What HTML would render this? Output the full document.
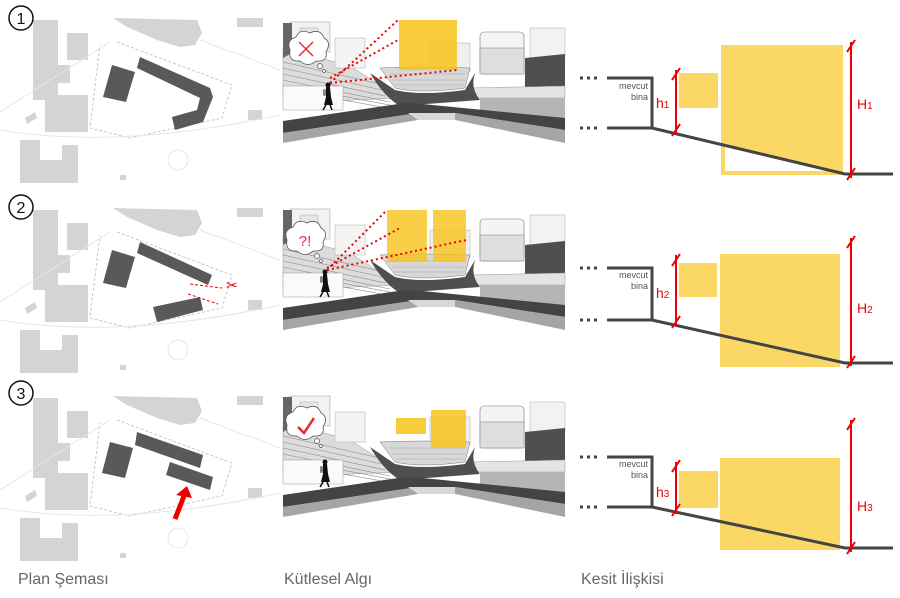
<!DOCTYPE html>
<html><head><meta charset="utf-8"><style>
html,body{margin:0;padding:0;background:#fff;width:900px;height:598px;overflow:hidden}
svg{display:block}
text{font-family:"Liberation Sans",sans-serif}
</style></head><body>
<svg width="900" height="598" viewBox="0 0 900 598" xmlns="http://www.w3.org/2000/svg">
<defs>
<g id="planbg">
 <polygon points="113,18 197,20 202,33 195,45 180,47 157,40 127,27" fill="#d4d4d4"/>
 <rect x="237" y="18" width="26" height="9" fill="#d4d4d4"/>
 <rect x="33" y="20" width="25" height="80" fill="#d4d4d4"/>
 <rect x="67" y="33" width="21" height="27" fill="#d4d4d4"/>
 <rect x="43" y="65" width="27" height="18" fill="#d4d4d4"/>
 <rect x="45" y="95" width="43" height="37" fill="#d4d4d4"/>
 <path d="M20,140 H40 V160 H62 V145 H78 V183 H20 Z" fill="#d4d4d4"/>
 <rect x="248" y="110" width="14" height="10" fill="#d4d4d4"/>
 <rect x="120" y="175" width="6" height="5" fill="#d4d4d4"/>
 <polygon points="25,118 35,112 37,118 27,124" fill="#d4d4d4"/>
 <polyline points="117,42 232,85 222,118 130,138 90,128 100,45" fill="none" stroke="#bbb" stroke-dasharray="3,2" stroke-width="0.8"/>
 <path d="M0,130 Q120,150 280,115 M0,112 L110,42 M200,40 L280,70" fill="none" stroke="#e6e6e6" stroke-width="1"/>
 <circle cx="178" cy="160" r="10" fill="none" stroke="#e6e6e6"/>
</g>
<g id="persp">
 <rect x="283" y="0" width="282" height="125" fill="#fff"/>
 <rect x="290" y="4" width="40" height="30" fill="#f2f2f2" stroke="#aaa" stroke-width="0.6"/>
 <rect x="300" y="10" width="18" height="30" fill="#e6e6e6" stroke="#aaa" stroke-width="0.5"/>
 <polygon points="283,30 350,48 400,80 283,85" fill="#dcdcdc" stroke="#999" stroke-width="0.5"/>
 <polygon points="283,5 292,5 292,35 283,40" fill="#666"/>
 <g stroke="#888" stroke-width="0.6"><line x1="283" y1="44" x2="380" y2="66"/><line x1="283" y1="50" x2="382" y2="72"/><line x1="283" y1="56" x2="385" y2="78"/><line x1="283" y1="62" x2="390" y2="84"/><line x1="300" y1="70" x2="395" y2="88"/><line x1="310" y1="76" x2="398" y2="92"/></g>
 <rect x="283" y="68" width="60" height="24" fill="#fafafa" stroke="#999" stroke-width="0.5"/>
 <rect x="335" y="20" width="30" height="30" fill="#f4f4f4" stroke="#aaa" stroke-width="0.5"/>
 <rect x="430" y="25" width="40" height="28" fill="#f0f0f0" stroke="#aaa" stroke-width="0.5"/>
 <path d="M380,50 Q420,48 470,50 L465,70 Q420,76 395,70 Z" fill="#d8d8d8" stroke="#777" stroke-width="0.5"/>
 <g stroke="#999" stroke-width="0.4"><line x1="390" y1="56" x2="466" y2="56"/><line x1="392" y1="62" x2="465" y2="62"/><line x1="395" y1="67" x2="463" y2="67"/></g>
 <rect x="480" y="14" width="44" height="42" rx="4" fill="#f4f4f4" stroke="#777" stroke-width="0.6"/>
 <rect x="480" y="30" width="44" height="26" fill="#dedede" stroke="#777" stroke-width="0.5"/>
 <rect x="530" y="10" width="35" height="30" fill="#f2f2f2" stroke="#aaa" stroke-width="0.5"/>
 <polygon points="525,40 565,36 565,75 525,70" fill="#4f4f4f"/>
 <polygon points="470,70 565,68 565,80 470,80" fill="#e4e4e4" stroke="#999" stroke-width="0.5"/>
 <polygon points="480,80 565,80 565,100 480,97" fill="#b5b5b5"/>
 <path d="M370,55 Q385,80 400,88 L480,82 Q470,70 475,55 L465,72 Q420,78 395,72 Z" fill="#4f4f4f"/>
 <polygon points="283,103 405,85 412,85 565,100 565,112 455,95 418,95 283,115" fill="#444"/>
 <polygon points="283,115 418,95 455,95 565,112 565,125 455,102 418,102 283,125" fill="#a5a5a5"/>
 <polygon points="408,95 455,95 455,102 418,102" fill="#d8d8d8"/>
</g>
<g id="walker" fill="#111">
 <circle cx="0" cy="0" r="2.5"/>
 <polygon points="-2,2 2,2 3,12 5,20 -4,20 -2,12"/>
 <rect x="-5" y="4" width="3" height="7" rx="1.5" fill="#888"/>
 <line x1="-2" y1="20" x2="-5" y2="25" stroke="#111" stroke-width="1.5"/>
 <line x1="2" y1="20" x2="4" y2="25" stroke="#111" stroke-width="1.5"/>
</g>
<g id="cloud">
 <path d="M-18,0 Q-22,-10 -12,-13 Q-8,-22 2,-17 Q12,-22 16,-12 Q24,-8 18,2 Q20,12 8,11 Q0,18 -8,11 Q-20,12 -18,0 Z" fill="#fff" stroke="#555" stroke-width="0.8"/>
 <circle cx="12" cy="16" r="2.5" fill="#fff" stroke="#555" stroke-width="0.7"/>
 <circle cx="16" cy="21" r="1.5" fill="#fff" stroke="#555" stroke-width="0.7"/>
</g>
</defs>

<!-- Row 1 -->
<use href="#planbg"/>
<circle cx="21" cy="18" r="12" fill="#fff" stroke="#111" stroke-width="1.5"/>
<text x="21" y="24" font-size="16" text-anchor="middle" fill="#111">1</text>
<polygon points="112,65 135,72 126,102 103,97" fill="#595959"/>
<polygon points="140,57 210,88 213,97 203,122 175,130 172,117 197,110 200,98 137,68" fill="#595959"/>

<g transform="translate(0,18)"><use href="#persp"/></g>
<rect x="399" y="20" width="58" height="50" fill="#f8c31a" opacity="0.85"/>
<use href="#walker" x="328" y="85"/>
<use href="#cloud" x="308" y="50"/>
<path d="M299,42 L313,56 M313,42 L299,56" stroke="#e03030" stroke-width="1.5"/>
<g stroke="#e00" stroke-width="2" stroke-dasharray="2,3" fill="none"><line x1="330" y1="83" x2="398" y2="20"/><line x1="330" y1="83" x2="457" y2="70"/><line x1="330" y1="78" x2="398" y2="40"/></g>

<!-- Row 2 -->
<g transform="translate(0,190)"><use href="#planbg"/></g>
<circle cx="21" cy="207" r="12" fill="#fff" stroke="#111" stroke-width="1.5"/>
<text x="21" y="213" font-size="16" text-anchor="middle" fill="#111">2</text>
<polygon points="112,250 135,257 126,288 103,283" fill="#595959"/>
<polygon points="140,242 212,275 208,285 137,253" fill="#595959"/>
<polygon points="153,307 200,297 203,310 157,322" fill="#595959"/>
<g stroke="#e00" stroke-width="1" stroke-dasharray="3,2"><line x1="190" y1="284" x2="222" y2="288"/><line x1="188" y1="294" x2="218" y2="304"/></g>
<text x="232" y="290" font-size="14" fill="#e00" text-anchor="middle">✂</text>

<g transform="translate(0,205)"><use href="#persp"/></g>
<rect x="387" y="210" width="40" height="52" fill="#f8c31a" opacity="0.8"/>
<rect x="433" y="210" width="33" height="52" fill="#f8c31a" opacity="0.8"/>
<use href="#walker" x="325" y="272"/>
<use href="#cloud" x="305" y="240"/>
<text x="305" y="246" font-size="15" fill="#e03030" text-anchor="middle">?!</text>
<g stroke="#e00" stroke-width="2" stroke-dasharray="2,3" fill="none"><line x1="327" y1="270" x2="387" y2="210"/><line x1="327" y1="270" x2="466" y2="240"/><line x1="327" y1="268" x2="400" y2="228"/></g>

<!-- Row 3 -->
<g transform="translate(0,378)"><use href="#planbg"/></g>
<circle cx="21" cy="393" r="12" fill="#fff" stroke="#111" stroke-width="1.5"/>
<text x="21" y="399" font-size="16" text-anchor="middle" fill="#111">3</text>
<polygon points="110,442 133,448 125,478 102,473" fill="#595959"/>
<polygon points="137,432 203,455 200,468 135,445" fill="#595959"/>
<polygon points="170,462 213,477 210,490 166,475" fill="#595959"/>
<line x1="175" y1="519" x2="184" y2="496" stroke="#e00" stroke-width="5"/>
<polygon points="176,495 192,498 187,486" fill="#e00"/>

<g transform="translate(0,392)"><use href="#persp"/></g>
<rect x="396" y="418" width="30" height="16" fill="#f8c31a" opacity="0.85"/>
<rect x="431" y="410" width="35" height="38" fill="#f8c31a" opacity="0.85"/>
<use href="#walker" x="325" y="462"/>
<use href="#cloud" x="305" y="425"/>
<path d="M298,427 L304,433 L314,418" stroke="#e03030" stroke-width="2.5" fill="none"/>

<!-- Sections -->
<g fill="#555">
 <!-- row1 -->
 <rect x="721" y="45" width="122" height="130" fill="#fbd865"/>
 <polygon points="725,147 839,173 839,171 725,171" fill="#fff"/>
 <rect x="679" y="73" width="39" height="35" fill="#fbd865"/>
 <g stroke="#444" stroke-width="3" fill="none">
  <line x1="580" y1="78" x2="600" y2="78" stroke-dasharray="3,4"/>
  <line x1="580" y1="128" x2="600" y2="128" stroke-dasharray="3,4"/>
  <polyline points="607,78 652,78 652,128"/>
  <polyline points="607,128 652,128 845,174 893,174"/>
 </g>
 <text x="648" y="89" font-size="9" text-anchor="end">mevcut</text>
 <text x="648" y="100" font-size="9" text-anchor="end">bina</text>
 <g stroke="#e00" stroke-width="2"><line x1="676" y1="70" x2="676" y2="134"/><line x1="851" y1="42" x2="851" y2="178"/>
 <line x1="672" y1="80" x2="680" y2="68"/><line x1="672" y1="136" x2="680" y2="124"/><line x1="847" y1="52" x2="855" y2="40"/><line x1="847" y1="180" x2="855" y2="168"/></g>
 <text x="656" y="108" font-size="14" fill="#e00">h<tspan font-size="10">1</tspan></text>
 <text x="857" y="109" font-size="14" fill="#e00">H<tspan font-size="10">1</tspan></text>

 <!-- row2 -->
 <rect x="720" y="254" width="120" height="113" fill="#fbd865"/>
 <rect x="679" y="263" width="38" height="34" fill="#fbd865"/>
 <g stroke="#444" stroke-width="3" fill="none">
  <line x1="580" y1="268" x2="600" y2="268" stroke-dasharray="3,4"/>
  <line x1="580" y1="320" x2="600" y2="320" stroke-dasharray="3,4"/>
  <polyline points="607,268 652,268 652,320"/>
  <polyline points="607,320 652,320 845,363 893,363"/>
 </g>
 <text x="648" y="278" font-size="9" text-anchor="end">mevcut</text>
 <text x="648" y="289" font-size="9" text-anchor="end">bina</text>
 <g stroke="#e00" stroke-width="2"><line x1="676" y1="255" x2="676" y2="326"/><line x1="851" y1="238" x2="851" y2="366"/>
 <line x1="672" y1="266" x2="680" y2="254"/><line x1="672" y1="328" x2="680" y2="316"/><line x1="847" y1="248" x2="855" y2="236"/><line x1="847" y1="368" x2="855" y2="356"/></g>
 <text x="656" y="298" font-size="14" fill="#e00">h<tspan font-size="10">2</tspan></text>
 <text x="857" y="313" font-size="14" fill="#e00">H<tspan font-size="10">2</tspan></text>

 <!-- row3 -->
 <rect x="720" y="458" width="120" height="92" fill="#fbd865"/>
 <rect x="679" y="471" width="39" height="37" fill="#fbd865"/>
 <g stroke="#444" stroke-width="3" fill="none">
  <line x1="580" y1="457" x2="600" y2="457" stroke-dasharray="3,4"/>
  <line x1="580" y1="507" x2="600" y2="507" stroke-dasharray="3,4"/>
  <polyline points="607,457 652,457 652,507"/>
  <polyline points="607,507 652,507 845,548 893,548"/>
 </g>
 <text x="648" y="467" font-size="9" text-anchor="end">mevcut</text>
 <text x="648" y="478" font-size="9" text-anchor="end">bina</text>
 <g stroke="#e00" stroke-width="2"><line x1="676" y1="462" x2="676" y2="514"/><line x1="851" y1="420" x2="851" y2="552"/>
 <line x1="672" y1="472" x2="680" y2="460"/><line x1="672" y1="516" x2="680" y2="504"/><line x1="847" y1="430" x2="855" y2="418"/><line x1="847" y1="554" x2="855" y2="542"/></g>
 <text x="656" y="497" font-size="14" fill="#e00">h<tspan font-size="10">3</tspan></text>
 <text x="857" y="511" font-size="14" fill="#e00">H<tspan font-size="10">3</tspan></text>
</g>

<!-- Labels -->
<g font-size="16" fill="#666">
 <text x="18" y="584">Plan Şeması</text>
 <text x="284" y="584">Kütlesel Algı</text>
 <text x="581" y="584">Kesit İlişkisi</text>
</g>
</svg>
</body></html>
